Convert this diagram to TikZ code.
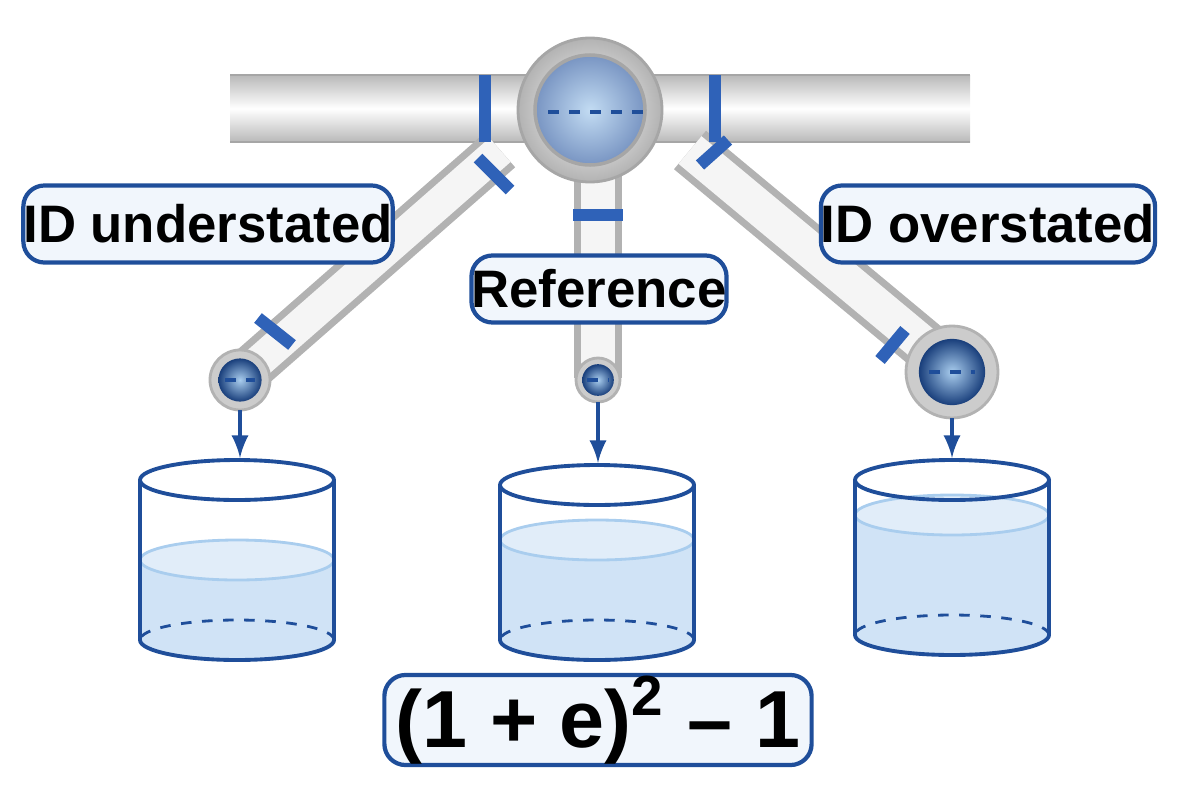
\documentclass[tikz,border=0pt]{standalone}
\usepackage{fontspec}
\setmainfont{Liberation Sans}
\usetikzlibrary{positioning,calc}
\definecolor{pipeblue}{HTML}{1F4E9A}
\definecolor{bandblue}{HTML}{2F62B8}
\definecolor{waterblue}{HTML}{A9CDEE}
\definecolor{boxfill}{HTML}{F1F6FC}
\tikzset{
  labelbox/.style={draw=pipeblue, fill=boxfill, rounded corners=6pt, line width=1.2pt, font=\bfseries\fontsize{15}{18}\selectfont, inner sep=0pt},
  pipe/.style={line cap=butt},
  band/.style={draw=bandblue, line width=3.5pt},
  drop/.style={->, >=latex, draw=pipeblue, line width=1.2pt},
  beaker/.style={draw=pipeblue, line width=1.1pt},
}
\begin{document}
\begin{tikzpicture}[x=0.01cm,y=-0.01cm]
\useasboundingbox (0,0) rectangle (1200,800);
% main pipe
\shade[top color=gray!55, bottom color=gray!55, middle color=white] (230,75) rectangle (970,142);
\draw[gray!70, line width=0.6pt] (230,75) -- (970,75) (230,142) -- (970,142);
% diagonal and centre pipes
\foreach \a/\b/\c/\d/\w in {500/150/240/378/46, 598/170/598/378/48, 690/150/952/368/50} {
  \draw[pipe, gray!60, line width=\w*0.2845pt] (\a,\b) -- (\c,\d);
  \draw[pipe, gray!8, line width=\w*0.2845pt-4pt] (\a,\b) -- (\c,\d);
}
% openings
\foreach \n/\x/\y/\r in {openL/240/380/30, openC/598/380/22, openR/952/372/46} {
  \fill[gray!40] (\x,\y) circle (\r);
  \draw[gray!60, line width=0.8pt] (\x,\y) circle (\r);
  \shade[inner color=waterblue, outer color=pipeblue!80!black] (\x,\y) circle ({\r*0.72});
  \draw[pipeblue, dashed, line width=1pt] ({\x-\r*0.5},\y) -- ({\x+\r*0.5},\y);
  \coordinate (\n) at (\x,{\y+\r});
}
% bands
\draw[band] (485,75) -- (485,142);
\draw[band] (715,75) -- (715,142);
\draw[band] (478,158) -- (510,190);
\draw[band] (700,165) -- (728,140);
\draw[band] (258,318) -- (292,345);
\draw[band] (905,330) -- (880,360);
\draw[band] (573,215) -- (623,215);
% hub
\shade[inner color=white, outer color=gray!60] (590,110) circle (72);
\draw[gray!70, line width=0.8pt] (590,110) circle (72);
\shade[inner color=waterblue!70, outer color=pipeblue!60] (590,110) circle (55);
\draw[gray!70, line width=1pt] (590,110) circle (55);
\draw[pipeblue, dashed, line width=1.2pt] (548,112) -- (652,112);
% labels
\node[labelbox, minimum width=3cm, minimum height=0.77cm] (under) at (208,224) {ID understated};
\node[labelbox, minimum width=2.42cm, minimum height=0.67cm] (ref) at (599,289) {Reference};
\node[labelbox, minimum width=3cm, minimum height=0.77cm] (over) at (988,224) {ID overstated};
\node[labelbox, minimum width=4.27cm, minimum height=0.9cm, font=\bfseries\fontsize{23}{27}\selectfont] (formula) at (598,720) {(1 + e)\textsuperscript{2} -- 1};
% beakers
\foreach \n/\x/\t/\b/\w in {cupL/237/480/640/560, cupC/597/485/640/540, cupR/952/480/635/515} {
  \fill[waterblue!55] (\x-97,\w) -- (\x-97,\b) arc (180:0:97 and 20) -- (\x+97,\w) arc (0:-180:97 and 20) -- cycle;
  \fill[waterblue!35] (\x,\w) ellipse (97 and 20);
  \draw[waterblue, line width=0.8pt] (\x,\w) ellipse (97 and 20);
  \draw[beaker] (\x,\t) ellipse (97 and 20);
  \draw[beaker] (\x-97,\t) -- (\x-97,\b) arc (180:0:97 and 20) -- (\x+97,\t);
  \draw[beaker, dashed, line width=0.8pt] (\x+97,\b) arc (0:-180:97 and 20);
  \coordinate (\n) at (\x,{\t-22});
}
\draw[drop] (openL) -- (openL|-cupL);
\draw[drop] (openC) -- (openC|-cupC);
\draw[drop] (openR) -- (openR|-cupR);
\end{tikzpicture}
\end{document}
